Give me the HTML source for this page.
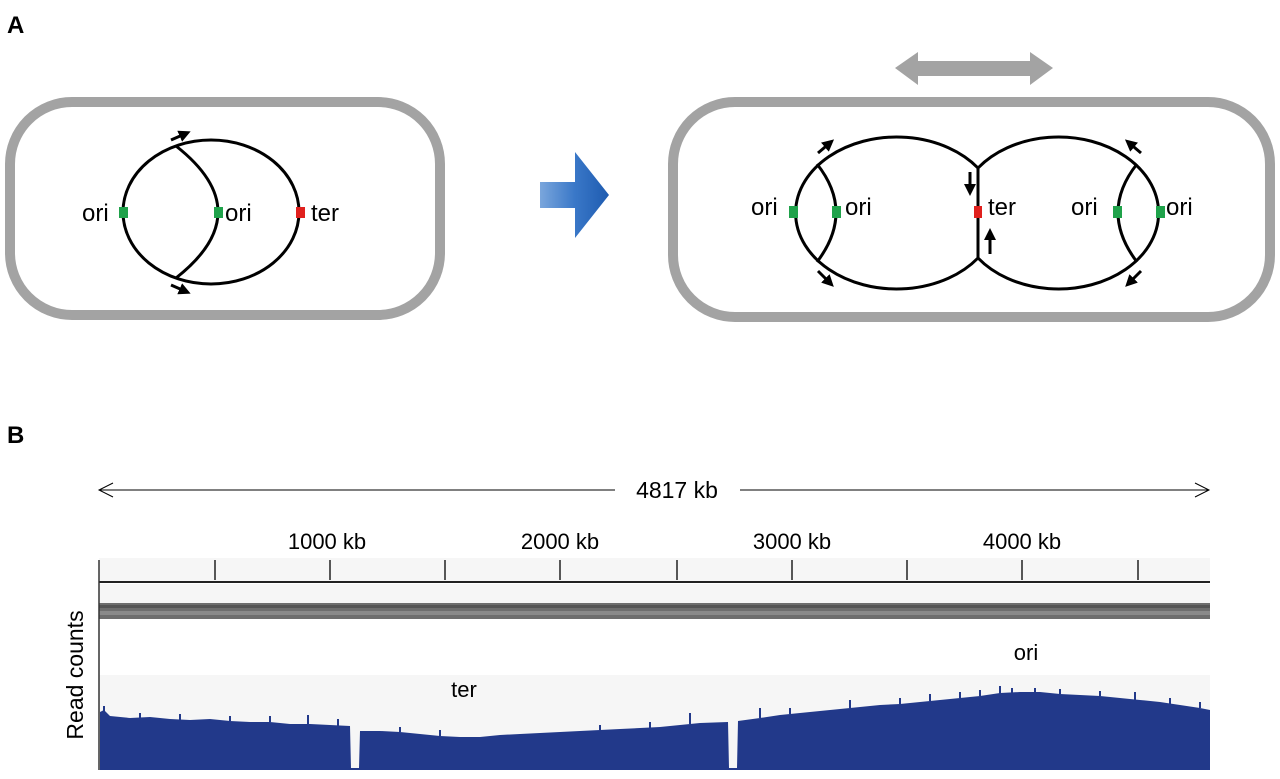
<!DOCTYPE html>
<html><head><meta charset="utf-8"><style>
html,body{margin:0;padding:0;background:#fff;}
svg{display:block;font-family:"Liberation Sans",Arial,sans-serif;}
</style></head><body>
<svg width="1280" height="779" viewBox="0 0 1280 779" xmlns="http://www.w3.org/2000/svg">
<defs>
<linearGradient id="bg" x1="0" y1="0" x2="1" y2="0">
<stop offset="0" stop-color="#7aa6dc"/><stop offset="0.5" stop-color="#3a78c8"/><stop offset="1" stop-color="#1e5bb0"/>
</linearGradient>
<marker id="ah" markerWidth="12" markerHeight="12" refX="8" refY="6" orient="auto" markerUnits="userSpaceOnUse"><path d="M0,0 L12,6 L0,12 Z" fill="#000"/></marker>
</defs>
<text x="7" y="33" font-size="24" font-weight="bold">A</text>
<text x="7" y="443" font-size="24" font-weight="bold">B</text>

<!-- left cell -->
<rect x="10" y="102" width="430" height="213" rx="62" fill="none" stroke="#a3a3a3" stroke-width="10"/>
<g fill="none" stroke="#000" stroke-width="3">
<ellipse cx="211" cy="212" rx="88" ry="72"/>
<path d="M176,146 Q260,212 176,278"/>
</g>
<g stroke="#000" stroke-width="3" fill="none">
<line x1="171" y1="140" x2="187" y2="133" marker-end="url(#ah)"/>
<line x1="171" y1="285" x2="187" y2="292" marker-end="url(#ah)"/>
</g>
<rect x="119" y="207" width="9" height="11" fill="#1fa24a"/>
<rect x="214" y="207" width="9" height="11" fill="#1fa24a"/>
<rect x="296" y="207" width="9" height="11" fill="#e0201d"/>
<g font-size="24">
<text x="82" y="221">ori</text><text x="225" y="221">ori</text><text x="311" y="221">ter</text>
</g>

<!-- blue arrow -->
<path d="M540,182 L575,182 L575,152 L609,195 L575,238 L575,208 L540,208 Z" fill="url(#bg)"/>

<!-- gray double arrow -->
<path d="M895,68 L918,52 L918,61 L1030,61 L1030,52 L1053,68 L1030,85 L1030,76 L918,76 L918,85 Z" fill="#a3a3a3"/>

<!-- right cell -->
<rect x="673" y="102" width="597" height="215" rx="62" fill="none" stroke="#a3a3a3" stroke-width="10"/>
<g fill="none" stroke="#000" stroke-width="3">
<path d="M978,168 A101,76 0 1,0 978,258"/>
<path d="M978,168 A100,76 0 1,1 978,258"/>
<line x1="978" y1="166" x2="978" y2="260"/>
<path d="M817,164 Q855,212 817,262"/>
<path d="M1137,164 Q1099,212 1137,262"/>
</g>
<g stroke="#000" stroke-width="3" fill="none">
<line x1="818" y1="153" x2="831" y2="142" marker-end="url(#ah)"/>
<line x1="818" y1="271" x2="831" y2="284" marker-end="url(#ah)"/>
<line x1="1141" y1="153" x2="1128" y2="142" marker-end="url(#ah)"/>
<line x1="1141" y1="271" x2="1128" y2="284" marker-end="url(#ah)"/>
<line x1="970" y1="172" x2="970" y2="192" marker-end="url(#ah)"/>
<line x1="990" y1="254" x2="990" y2="232" marker-end="url(#ah)"/>
</g>
<rect x="789" y="206" width="9" height="12" fill="#1fa24a"/>
<rect x="832" y="206" width="9" height="12" fill="#1fa24a"/>
<rect x="974" y="206" width="8" height="12" fill="#e0201d"/>
<rect x="1113" y="206" width="9" height="12" fill="#1fa24a"/>
<rect x="1156" y="206" width="9" height="12" fill="#1fa24a"/>
<g font-size="24">
<text x="751" y="215">ori</text><text x="845" y="215">ori</text><text x="988" y="215">ter</text>
<text x="1071" y="215">ori</text><text x="1166" y="215">ori</text>
</g>

<!-- panel B -->
<line x1="99" y1="490" x2="615" y2="490" stroke="#000" stroke-width="1"/>
<polyline points="113,483 99,490 113,497" fill="none" stroke="#000" stroke-width="1"/>
<line x1="740" y1="490" x2="1209" y2="490" stroke="#000" stroke-width="1"/>
<polyline points="1195,483 1209,490 1195,497" fill="none" stroke="#000" stroke-width="1"/>
<text x="677" y="498" font-size="23" text-anchor="middle">4817 kb</text>

<rect x="99" y="558" width="1111" height="24" fill="#f6f6f6"/>
<rect x="99" y="584" width="1111" height="19" fill="#f6f6f6"/>
<rect x="99" y="675" width="1111" height="95" fill="#f6f6f6"/>
<rect x="99" y="603" width="1111" height="16" fill="#6e6e6e"/>
<rect x="99" y="605" width="1111" height="3" fill="#555"/>
<rect x="99" y="611" width="1111" height="4" fill="#8a8a8a"/>
<line x1="99" y1="582" x2="1210" y2="582" stroke="#222" stroke-width="2"/>
<line x1="99" y1="560" x2="99" y2="770" stroke="#333" stroke-width="1.5"/>
<g stroke="#222" stroke-width="1.5">
<line x1="215" y1="560" x2="215" y2="580"/><line x1="330" y1="560" x2="330" y2="580"/>
<line x1="445" y1="560" x2="445" y2="580"/><line x1="560" y1="560" x2="560" y2="580"/>
<line x1="677" y1="560" x2="677" y2="580"/><line x1="792" y1="560" x2="792" y2="580"/>
<line x1="907" y1="560" x2="907" y2="580"/><line x1="1022" y1="560" x2="1022" y2="580"/>
<line x1="1138" y1="560" x2="1138" y2="580"/>
</g>
<g font-size="22" text-anchor="middle">
<text x="327" y="549">1000 kb</text><text x="560" y="549">2000 kb</text>
<text x="792" y="549">3000 kb</text><text x="1022" y="549">4000 kb</text>
<text x="464" y="697">ter</text><text x="1026" y="660">ori</text>
</g>
<text transform="translate(83,675) rotate(-90)" font-size="23" text-anchor="middle">Read counts</text>

<polygon fill="#22398a" points="100,770 100,712 104,710 110,716 130,718 150,717 170,719 190,720 210,719 230,721 250,722 270,722 290,724 310,724 330,725 350,726 351,768 359,768 360,731 380,731 400,732 420,734 440,736 460,737 480,737 500,735 520,734 540,733 560,732 580,731 600,730 620,729 640,728 660,727 680,725 700,723 728,722 729,768 737,768 738,721 760,718 780,715 800,713 820,711 840,709 860,707 880,705 900,704 920,702 940,700 960,698 980,696 1000,693 1020,692 1040,692 1060,694 1080,695 1100,696 1120,698 1140,700 1160,702 1180,705 1200,708 1210,710 1210,770"/>
<g stroke="#22398a" stroke-width="2">
<line x1="104" y1="718" x2="104" y2="706"/><line x1="140" y1="718" x2="140" y2="713"/><line x1="180" y1="720" x2="180" y2="714"/>
<line x1="230" y1="721" x2="230" y2="716"/><line x1="270" y1="722" x2="270" y2="716"/><line x1="308" y1="724" x2="308" y2="715"/>
<line x1="338" y1="726" x2="338" y2="719"/><line x1="400" y1="732" x2="400" y2="727"/><line x1="440" y1="736" x2="440" y2="730"/>
<line x1="600" y1="730" x2="600" y2="725"/><line x1="650" y1="728" x2="650" y2="722"/>
<line x1="690" y1="724" x2="690" y2="713"/><line x1="760" y1="718" x2="760" y2="708"/><line x1="790" y1="714" x2="790" y2="708"/>
<line x1="850" y1="708" x2="850" y2="700"/><line x1="900" y1="704" x2="900" y2="698"/><line x1="930" y1="701" x2="930" y2="694"/>
<line x1="960" y1="698" x2="960" y2="692"/><line x1="980" y1="696" x2="980" y2="690"/>
<line x1="1000" y1="694" x2="1000" y2="686"/><line x1="1012" y1="693" x2="1012" y2="688"/><line x1="1035" y1="693" x2="1035" y2="688"/>
<line x1="1060" y1="694" x2="1060" y2="689"/><line x1="1100" y1="696" x2="1100" y2="691"/>
<line x1="1135" y1="700" x2="1135" y2="692"/><line x1="1170" y1="704" x2="1170" y2="698"/><line x1="1200" y1="708" x2="1200" y2="702"/>
</g>
</svg>
</body></html>
